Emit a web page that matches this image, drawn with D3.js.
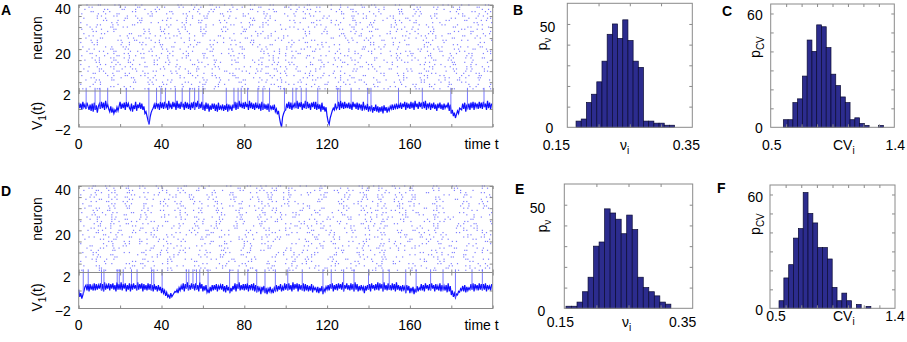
<!DOCTYPE html>
<html>
<head>
<meta charset="utf-8">
<script src="https://cdn.jsdelivr.net/npm/d3@7"></script>
<style>
  body { margin: 0; background: #fff; }
  svg { display: block; font-family: "Liberation Sans", Arial, Helvetica, sans-serif; }
</style>
</head>
<body>
<div id="chart"></div>
<script>
// ---- data ----
// raster rows: neurons 2..40, each string holds inter-spike intervals
// in half time units, one character each (0-9, a-z, A-Z = 0..61)
const rasterA = [
  "4e2q7b3h5j2c9t4a6f3dm5b2k8g4r3e6c2ia7d3p5b8f", "bk3a6s2d8f4c3ng5e2jb7h4x3c5a9e2gl6d3b4m8c2fk",
  "2c7hu4a3f9b2d6kp3e5c8a2i4g7rb3d5e2h9c4n6a3jf", "g5w2c4a8e3b6dj2h7f4c3qa5b9d2e6k3g8c4s2f5b7ha",
  "7a3c2kf6b4v3d8e2g5a4ic3o7b2f9d4h3e6c2ja5l8db", "c3h9a2e5q4b7d3g2f6c8m4a3e5b2jt3d7h4a6c2kf5e9",
  "3p6b2d4a8gc5e3h2y4c7f3a6b9d2ie5k3c4h7a2gs4b", "e2a7c4f3n5b2d8h3g6a2c5j4e9bz3d6f2a4k7c3hm5a",
  "9b4d2h6a3e5c8r2f4b3g7d2a5i6c3ku4e2h8b5d3f7a", "5f2c8a3o4e6b2d7g3h5c2a9j4x3b6e2f4d8k3a5cl7b",
  "a8d3b5e2gc4h7a3p6f2c5b9e3d4i2a7hv3c5g4b6d2e", "2j5a4c7e3b8f2d6hq3a5c4g2b9e7d3kr4a6c2f5h3b8",
  "h3c6a2e9b4s3d5f2g7c4a3ib6e2d8k5c3h4m2a7f5b3", "6a4e2c5k3b8d7g2f3h6a4cw2e5b3j9d4a6f2c3li5e7",
  "d7b3a5c2f8e4h3u6g2a5d3b7k4c9e2j3fa6h4c5b2n8", "3e8c2a6g4b5d2f9h3ao4c7e2b5i3dt6a4g2c8f5kb3e",
  "b2f6a4c3h8d5e2g7a3l4b6c2y5e3d9f4a2hj6c3b7g4", "8c4a2e7b3f5d6h2kr3a5c4g2e8b6d3if4a7c2h5m3e6",
  "a5g2c3e8b4dq6f3a2h5c7e3b4j9d2a6gk3c5f4e2b8h", "4m6b3r7a2e5hs2f8k4g3c6x2d5ep3a4i7c2fv5b3e6q",
  "f3n8c4e2r6d3h5g7a2jp4c5u3b8d2f6m4kh3c7e5b2g", "2b5o7a3c4f9d2h6ga3y5b2e4m8d3j6q2fz4c7b3e5h4",
  "c6k3d2e8t5f4h3g2l6a7c3w5b4d2ki9a3f6n4e2h5b7", "7e2p5c3g4b8x6f2h3a5jr2c6e4l3d7a9g2k5c3fo4e6",
  "a4q7b2e5d3h8f2u6a3c4iw5e2b7m3f4a6k2c8h3t5g2", "5h3o2c6e4b9d2s7g3ax4c5e2b6p3j8a4f2kc6h3e5b7",
  "e3b6u4c2f8d5g3h2a7ct4e3n5d2i6a8f3k4c2hm5e3b", "3a9c2r5b4d7f3h6g2y4c5le3b8d2j4a6fr3c5k2e7h4",
  "b6e2a4w8d3f5h2g7a3q4e6bp2d5i3a8f4k2c3hs6e4a", "8a3c5e2v4d6f7h3g2a5cz4e3b6d2j5m7f3ck4h2e6b5",
  "2u5k3a7n4c2j6e8d3s5b2h9f4a3l6c2g7x3e5b4i2d6", "o3b6f2k4a9c3h5r2d7e4m3b5g2j8c4a6t3f2e5h9b3k",
  "5d8j2a4p3f6c2l7e3b5w2h4g9a3k6c2n5e4d7b3q2f", "i4c3a8e2y5b3g6d2k4h7f3a5m2c9e3j6b4r2d5a3h7",
  "3g7b2s4e6a3d8c2k5f3h9b4v2e5a7i3c6d2l4g8e3b", "c2a6m3f5d2h8b4e3q6a2j7c4g5b3d9k2e4t6f3a5h2",
  "6j3e2b9a4x5c3f7d2g4h6a3k8b2p5e3c4i7d2m6f3a", "a3r5c2h7e4b6f3d9g2n4a5c3k7e2b8w3d4f6h2j5c3",
  "8b2e4g6z3a5d2c7i4f3h5b2l9e6a3k4c2s5d7g3e4b"
];
const rasterD = [
  "3h6b2w5a4e8c3k2f7d4g3p5b6a2i3c9e4h2m7d3f5a", "k2n5c8g3t4b6r2f3h7d5a2j4o6q3e8b2l5a4u7f3c6",
  "5c3w2a9m6b4n3d7p2h5i3c4k8e2x6r3d4a7i2f5c3g", "q6e3b2j5y4c7f3l2g6a4s3c8h5b2d4o3a6k7f2c5t3",
  "2f8r3c5e4m2v6d3g7h2b5k4i3e9b6o2d4p3k5f7c2h", "d4a7s2m3e6j5f2h4u8a3j5c2g7b3x4d6l2f5k3c8h4",
  "7b3e2y5c4q6d2n8h3g5a4i2r7e3b6u4d2a9k3f5c2g", "e5c2o8b3d4k6f3h2w7a5c3j2m4b9p5d3a6f2t4c7h3",
  "4a3r5c2g7b6l3f4h2s5a8c3i6e2k4z3d5a2k7f3n4h", "c7e2u4b5d3g6f2h9a3l5c4x2j7b3d6q4s2f5k3c8e2",
  "8d3a5v2e6b4y3f7h2g4p6c3i5e2b8d3o4a2k6m5c3h", "b2e6a3r9d4f5h2m7g3w4c2j6e5b3d8a4t2f6k3c5h4",
  "2m9c4a7k3x5e2h6b3q4f8d2n5g3a6l4c2r7e5b3j6", "t3c5a2g8e4p2b6d3k5w2f7h4a3m6c2i9e4s2d5b3l",
  "6f3a2n7c4e5h2z3b8d4j6a2g5q3c7k2e4b6o3d5a2", "a5e8c2l3b6r4d2h7f5a3x2g6c4i3m5e2b9k4d3p6f",
  "4k2a6s3c5e9b2f4g7d3h2n6a5u4c3j2e8b5l3d6a4", "h2c7e3a5o4b6d2y8f3g5a2k4c6r3e2i5b7d3m4a6f",
  "9a4g2c6e3v5b2d7h4f3a6p2c5k3e8j4b2d6s3a5n2", "c3b5t2a4e7d6f3h2q5g4a8c2l6e3b4w5d2i7a3k5f",
  "5e2a9c3m4b6f2d5h3g7x2a4c6k3e5b2o8d4j3a6r2", "f6a3c2e5u4b8d3h6g2n5a3c4i7e2b6d3z4k5a2f8c",
  "2g4a7c5e3b2s6d4f8h3a2l5c6e3p4b2j7d5a4k3m6", "b7e3a2c6y4d5f3h2g8a4r5c3i2e6b4d3n7a5k2t4c",
  "8a2c4o6e3b5d2f7h4g3a9c2w5e3j6b4d2q3a5k7l2", "d3a6c2e5i4b7x3f2h5g4a3c8m2e6b5k3d4a2u7f3c",
  "3c8a4e2b6s5d3f4h7g2a5c3j2e9p4b3d6a2k5f4r3", "e4a2v6c3b5d7f2h3g6a4n2c5i8e3b2d4a7k3y5f2c",
  "6b3a5c2e4t7d3f5h2g4a3q6c2j5e7b4d3l2a6k4f5", "a2h5c3e8b4d2o6f3g5a4c7i2x3e5b6d2a4m3k8f2c",
  "4s3a6c2e5b3d8f4h2k6g3a5z2c4j7e3b5d2r6a4f3", "c5a2e4w3b6d5f2h7g3a4c6m2i5e3b8d4a2p6k3f5",
  "7d2a5c3e6b4l2f5h3g8a2c4u3j6e5b2d7a3k4f2n", "b4e6a2c5r3d4f7h2g5a3c6x2i4e3b5d6a2k3o7f4",
  "2a5c8e3j4b6d2f5h3y4g2a7c3k5e2b4d6a3s5f2m", "g6a3c2e4b7d5q3f2h6a4c5i3e2b8d3l4a6k2v5f3",
  "5c2a6e3t4b5d2f8h3g4a2c6j5e3b4d2a7n3k5f6c", "a3e7c2b5d4f3h6w2g5a4c3r2i7e5b3d4a2k6f3o5",
  "e2a4c6b3d5m2f7h4g3a5c2j6e4x3b5d2a8k3f4p2"
];
// V1(t) samples every 0.5 time units, level = (code - 20) / 10
const traceA =
  "rlqjsmpkrn" + "jpiqhrjogn" + "qkslrjtmpk" + "hngkfjhmin" + "skqlrjsmql" +
  "jqhoksiplr" + "kqjnfhc73b" + "gjlpkrmqjs" + "lrkslqjtmp" + "ksmrjtlqks" +
  "mqjslrkqjr" + "lsjrmtkqls" + "jpirkqhojq" + "kqiphrjnkp" + "iojqhpknip" +
  "lsjrktmqlr" + "ksmqjtlrkq" + "jrlpkqisjq" + "kpjqhoknjp" + "hkeia40bfi" +
  "jqlskrjpmr" + "ltkrmsjqlt" + "kslqjrmsks" + "jqkphrjnhm" + "c63aeiljqk" +
  "msjtlrkslq" + "lrkqjsmqkr" + "jqlpisknjq" + "hnjogmiphn" + "gmhnfoimgl" +
  "inkpjolqkp" + "lrkqmsjrlq" + "kslrjtmqks" + "mrksltjqmr" + "jqlrkpiqlr" +
  "kpjqlomrip" + "fjcgaeiflk" + "jqkrhplqjr" + "lsjrmqkslr" + "ksmqjtlrkq";
const traceD =
  "ldhbfjoqkr" + "jrlpkskrlq" + "mskrjtlqms" + "krmslqjtlr" + "ltkrmsjqls" +
  "jrlsmqktlr" + "msjrlqkslr" + "kqjrlpjqko" + "hnhkeidfbh" + "dfhjilhnkp" +
  "lsjrmtkqls" + "mrkslqjtmr" + "jpkqilhojq" + "kqlrjpmqlr" + "jpiqkohnjp" +
  "lsjrmtkqlr" + "krlsjqmrks" + "jqipkngokp" + "hngmjoilhn" + "kqjplrjoks" +
  "lrkslqjtlr" + "msjrlqksjr" + "kqjpkrioln" + "iohnjpgmjo" + "lqkrmsjqlr" +
  "ksmrltjqms" + "lqkslrjtlr" + "jpkqlohpkq" + "lrjsmqkrlt" + "ksmrjtlqks" +
  "lqkslrjtlq" + "kpjqlohqkp" + "hnjogmipjn" + "lrkqjsmqkr" + "ksmqjrlpks" +
  "jqlpkqisjp" + "fkdhcgfjim" + "kpjqioknlr" + "lsjrmqkslr" + "krlsjqmpkr";
// spike times of neuron 1
const spikesA = [3.6, 7.9, 10.3, 14, 23, 33.9, 37.6, 39.7, 41.9, 46.7, 50, 53.6, 56, 58, 60,
  71.3, 75, 77, 78.5, 81.6, 86.6, 89, 92.2, 99.4, 103.4, 105, 107.5, 109.9, 115.5, 125.1,
  126.3, 131.6, 139.6, 141.2, 154.5, 166, 179.8, 187.8, 195.8];
const spikesD = [2.2, 4.6, 11, 12.2, 18.6, 19.6, 21.5, 25.5, 28.2, 35.2, 36.3, 40.3, 52, 53.2,
  55.2, 56.9, 58.5, 62.5, 72.9, 77, 81.7, 86, 90, 95, 101, 108, 118, 122, 128, 133, 140, 147,
  150, 158, 163, 170, 176, 182, 190, 195];

// histograms: first bin edge, bin width, counts
const rateBinsB = { start: 0.164, width: 0.0083, counts: [3, 4, 12, 16, 22, 32, 45, 50, 43, 52, 42, 32, 29, 3, 3, 2, 2, 1, 1] };
const rateBinsE = { start: 0.1526, width: 0.0086, counts: [1, 1, 3, 8, 15, 30, 32, 48, 46, 43, 36, 45, 38, 15, 10, 8, 6, 3, 2] };
const cvBinsC = { start: 0.592, width: 0.0347, counts: [4, 4, 13, 15, 27, 46, 40, 54, 53, 42, 28, 22, 16, 13, 4, 5, 2, 1, 0, 0, 1] };
const cvBinsF = { start: 0.565, width: 0.0348, counts: [4, 16, 23, 37, 42, 61, 50, 45, 32, 32, 26, 11, 4, 8, 4, 0, 2, 0, 1] };

// ticks and tick labels
const timeTicks = [0, 20, 40, 60, 80, 100, 120, 140, 160, 180, 200];
const timeLabels = [0, 40, 80, 120, 160];
const neuronTicks = [5, 10, 15, 20, 25, 30, 35, 40];
const neuronLabels = [20, 40];
const vTicks = [0];
const vLabels = [-2, 2];
const rateTicks = [0.2, 0.25, 0.3];
const rateLabels = ["0.15", "0.35"];
const cvTicks = [0.6125, 0.725, 0.8375, 0.95, 1.0625, 1.175, 1.2875];
const cvLabels = ["0.5", "1.4"];
const countTicks = [10, 20, 30, 40, 50, 60];

// ---- drawing ----
const svg = d3.select("#chart").append("svg").attr("width", 907).attr("height", 342);
const boxColor = "#8a8a8a";
const CHARS = "0123456789abcdefghijklmnopqrstuvwxyzABCDEFGHIJKLMNOPQRSTUVWXYZ";

function decodeSpikes(str) {
  let t = 0, out = [];
  for (const ch of str) { t += CHARS.indexOf(ch) / 2; if (t < 200) out.push(t); }
  return out;
}
function decodeTrace(str) {
  return Array.from(str, (ch, i) => ({ t: i * 0.5, v: (CHARS.indexOf(ch) - 20) / 10 }));
}

function text(g, x, y, parts, opts = {}) {
  const t = g.append("text").attr("x", x).attr("y", y)
    .attr("font-size", opts.size || 14).attr("text-anchor", opts.anchor || "middle")
    .attr("dy", "0.35em").attr("fill", "#000");
  if (opts.rotate) t.attr("transform", `rotate(-90,${x},${y})`);
  if (opts.bold) t.attr("font-weight", "bold");
  parts.forEach(p => {
    if (typeof p === "string") t.append("tspan").text(p);
    else t.append("tspan").attr("font-size", p.size || 10).attr("dy", p.dy).text(p.sub)
      .clone().attr("font-size", 1).attr("dy", -p.dy).text("\u200a");
  });
  return t;
}

function tickAxis(g, axis, tx, ty) {
  g.append("g").attr("transform", `translate(${tx},${ty})`)
    .call(axis.tickSize(-3).tickFormat(""))
    .call(s => s.select(".domain").remove())
    .call(s => s.selectAll("line").attr("stroke", boxColor));
}

function drawRaster(p) {
  const g = svg.append("g");
  const x = d3.scaleLinear().domain([0, 200]).range([78.7, 492.7]);
  const yN = d3.scaleLinear().domain([1, 40]).range([p.div, p.top]);
  const yV = d3.scaleLinear().domain([-2, 2]).range([p.bottom, p.div]);

  // raster dots
  p.rows.forEach((str, i) => {
    g.append("g").selectAll("rect").data(decodeSpikes(str)).join("rect")
      .attr("x", d => x(d) - 0.6).attr("y", yN(i + 2) - 0.6)
      .attr("width", 1.2).attr("height", 1.2).attr("fill", "#8080ff");
  });

  // membrane potential
  const trace = decodeTrace(p.trace);
  g.append("path").datum(trace)
    .attr("fill", "none").attr("stroke", "#0f0fff").attr("stroke-width", 1.2)
    .attr("d", d3.line().x(d => x(d.t)).y(d => yV(d.v)));
  g.append("g").selectAll("line").data(p.spikes).join("line")
    .attr("x1", d => x(d)).attr("x2", d => x(d))
    .attr("y1", d => yV(trace[Math.min(399, Math.round(d * 2))].v))
    .attr("y2", yV(2.35))
    .attr("stroke", "#6a6aff").attr("stroke-width", 0.9);

  // frames
  const [x0, x1] = x.range();
  g.append("rect").attr("x", x0).attr("y", p.top).attr("width", x1 - x0).attr("height", p.bottom - p.top)
    .attr("fill", "none").attr("stroke", boxColor);
  g.append("line").attr("x1", x0).attr("x2", x1).attr("y1", p.div).attr("y2", p.div).attr("stroke", boxColor);

  tickAxis(g, d3.axisBottom(x).tickValues(timeTicks), 0, p.bottom);
  tickAxis(g, d3.axisTop(x).tickValues(timeTicks), 0, p.div);
  tickAxis(g, d3.axisBottom(x).tickValues(timeTicks), 0, p.div);
  tickAxis(g, d3.axisTop(x).tickValues(timeTicks), 0, p.top);
  tickAxis(g, d3.axisLeft(yN).tickValues(neuronTicks), x0, 0);
  tickAxis(g, d3.axisRight(yN).tickValues(neuronTicks), x1, 0);
  tickAxis(g, d3.axisLeft(yV).tickValues(vTicks), x0, 0);
  tickAxis(g, d3.axisRight(yV).tickValues(vTicks), x1, 0);

  // labels
  timeLabels.forEach(v => text(g, x(v), p.bottom + 17, [String(v)]));
  text(g, x(200) + 6, p.bottom + 17, ["time t"], { anchor: "end" });
  neuronLabels.forEach(v => text(g, x0 - 8, yN(v) + 4.5, [String(v)], { anchor: "end" }));
  vLabels.forEach(v => text(g, x0 - 8, yV(v) + (v > 0 ? 4.5 : 3), [v < 0 ? "\u2212" + (-v) : String(v)], { anchor: "end" }));
  text(g, 37, p.top + 33, ["neuron"], { rotate: true });
  text(g, 37, p.bottom - 11, ["V", { sub: "1", dy: 4 }, "(t)"], { rotate: true });
  text(g, 1, p.top + 5, [p.letter], { anchor: "start", bold: true });
}

function drawHist(p) {
  const g = svg.append("g");
  const x = d3.scaleLinear().domain(p.xDomain).range([p.x0, p.x1]);
  const y = d3.scaleLinear().domain([0, p.yMax]).range([p.y0, p.y1]);
  const bins = p.bins;
  g.selectAll("rect.bar").data(bins.counts.map((c, i) => ({ c, i })).filter(d => d.c > 0))
    .join("rect").attr("class", "bar")
    .attr("x", d => x(bins.start + d.i * bins.width))
    .attr("width", x(bins.start + bins.width) - x(bins.start))
    .attr("y", d => y(d.c)).attr("height", d => y(0) - y(d.c))
    .attr("fill", "#2c2c8e").attr("stroke", "#0a0a33").attr("stroke-width", 0.7);

  g.append("rect").attr("x", p.x0).attr("y", p.y1).attr("width", p.x1 - p.x0).attr("height", p.y0 - p.y1)
    .attr("fill", "none").attr("stroke", boxColor);
  const yt = countTicks.filter(v => v < p.yMax);
  tickAxis(g, d3.axisBottom(x).tickValues(p.xTicks), 0, p.y0);
  tickAxis(g, d3.axisTop(x).tickValues(p.xTicks), 0, p.y1);
  tickAxis(g, d3.axisLeft(y).tickValues(yt), p.x0, 0);
  tickAxis(g, d3.axisRight(y).tickValues(yt), p.x1, 0);

  // labels
  text(g, p.x0 + p.lbl.xl, p.y0 + p.lbl.xy, [p.xLabels[0]]);
  text(g, p.x1 + p.lbl.xr, p.y0 + p.lbl.xy, [p.xLabels[1]]);
  text(g, p.lbl.nameX, p.y0 + p.lbl.xy, p.xName, { anchor: "start" });
  text(g, p.x0 - p.lbl.pad, y(p.yLabel) + p.lbl.dy, [String(p.yLabel)], { anchor: "end" });
  text(g, p.x0 - p.lbl.pad0, y(0) + p.lbl.dy0, ["0"], { anchor: "end" });
  text(g, p.lbl.pX, p.lbl.pY, p.yName, { rotate: true });
  text(g, p.lbl.letterX, p.lbl.letterY, [p.letter], { anchor: "start", bold: true });
}

drawRaster({ letter: "A", top: 5, div: 91, bottom: 127, rows: rasterA, trace: traceA, spikes: spikesA });
drawRaster({ letter: "D", top: 186, div: 272.5, bottom: 308.5, rows: rasterD, trace: traceD, spikes: spikesD });

const rateName = ["\u03bd", { sub: "i", dy: 4 }];
const cvName = ["CV", { sub: "i", dy: 4 }];
const pRate = ["p", { sub: "\u03bd", dy: 4 }];
const pCv = ["p", { sub: "CV", dy: 4 }];

drawHist({ letter: "B", bins: rateBinsB, xDomain: [0.15, 0.35], xTicks: rateTicks, xLabels: rateLabels,
  x0: 567.3, x1: 692.3, y0: 127.3, y1: 3.3, yMax: 60, yLabel: 50, xName: rateName, yName: pRate,
  lbl: { xl: -11, xr: -6, xy: 18, nameX: 620, pad: 12, dy: 3, pad0: 14, dy0: 1, pX: 542, pY: 44, letterX: 513, letterY: 10 } });
drawHist({ letter: "C", bins: cvBinsC, xDomain: [0.5, 1.4], xTicks: cvTicks, xLabels: cvLabels,
  x0: 770.7, x1: 894.3, y0: 127.3, y1: 4, yMax: 65, yLabel: 60, xName: cvName, yName: pCv,
  lbl: { xl: 1, xr: 1, xy: 18, nameX: 833, pad: 8, dy: 1.5, pad0: 8, dy0: 1, pX: 755, pY: 47, letterX: 722, letterY: 11 } });
drawHist({ letter: "E", bins: rateBinsE, xDomain: [0.15, 0.35], xTicks: rateTicks, xLabels: rateLabels,
  x0: 564.3, x1: 692.7, y0: 308.3, y1: 184, yMax: 60, yLabel: 50, xName: rateName, yName: pRate,
  lbl: { xl: -4, xr: -10, xy: 14, nameX: 622, pad: 19, dy: 3, pad0: 19, dy0: 3, pX: 542, pY: 226, letterX: 515, letterY: 189 } });
drawHist({ letter: "F", bins: cvBinsF, xDomain: [0.5, 1.4], xTicks: cvTicks, xLabels: cvLabels,
  x0: 770, x1: 895, y0: 308.3, y1: 185, yMax: 65, yLabel: 60, xName: cvName, yName: pCv,
  lbl: { xl: 6, xr: 0, xy: 8, nameX: 833, pad: 7, dy: 3, pad0: 7, dy0: 2, pX: 755, pY: 224, letterX: 717, letterY: 188 } });
</script>
</body>
</html>
